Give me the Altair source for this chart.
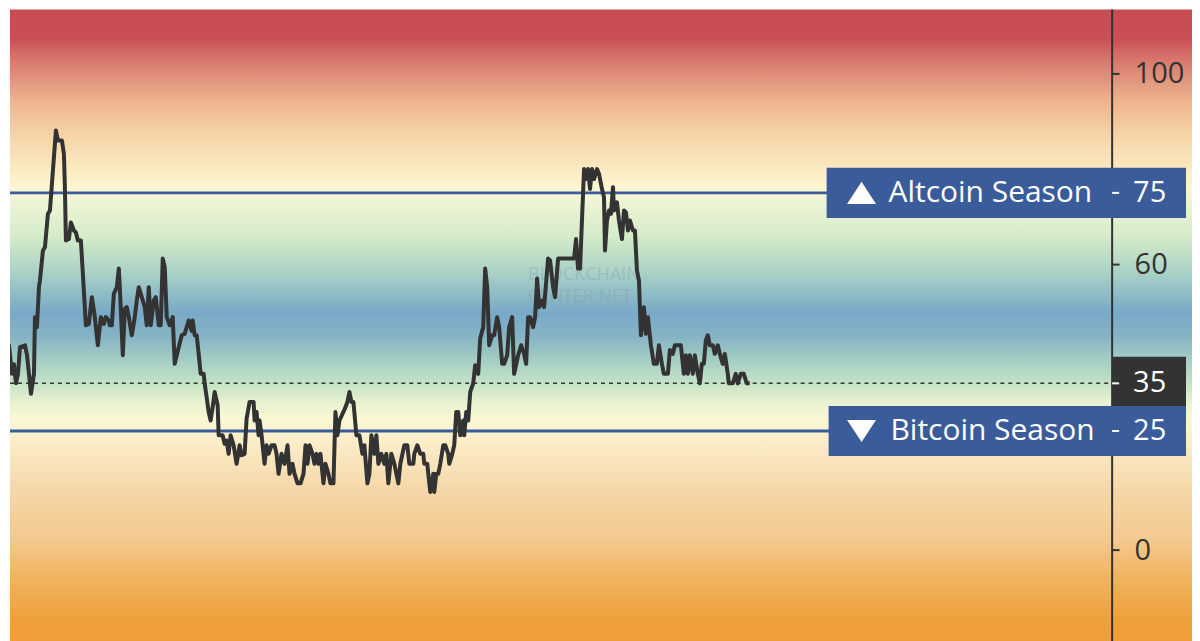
import altair as alt
import pandas as pd

# ---- index series (time index, index value) ----
t_1 = [0, 2, 4, 7, 10, 12, 14, 16, 18, 23, 25, 27, 29, 32, 33, 35, 37, 38, 41, 43,
       46, 48, 51, 54, 56, 60, 62, 63, 64, 67, 69, 72, 74, 76, 79, 81, 84, 87, 90, 93,
       96, 99, 102, 104, 107, 108, 110, 112, 115, 117, 118, 121, 123, 125, 127, 130, 133, 135, 137, 140,
       143, 145, 147, 149, 152, 154, 157, 159, 161, 163, 165, 168, 171, 173, 177, 180, 183, 185, 187]
v_1 = [29.3, 35, 32.8, 43, 37, 39, 35, 37, 42.6, 43, 41, 37, 32.8, 37, 48.9, 46.8, 55.2, 56.6, 62.9, 63.6,
       70.6, 71.3, 79.7, 88.1, 86, 86, 83.2, 76.2, 65, 65.3, 68.8, 67.1, 66.7, 65, 65, 58, 47.2, 47.5, 53.1, 48.9,
       43, 48.9, 47.5, 48.9, 48.2, 47.2, 47.2, 53.8, 55.2, 59.1, 55.2, 40.9, 50.7, 51, 48.9, 45.1, 48.9, 52.4, 55.2, 53.1,
       51, 47.2, 55.2, 47.2, 52.4, 53.1, 47.2, 47.2, 61.2, 59.4, 48.9, 47.2, 48.9, 39.1, 42.6, 45.1, 45.4, 46.8, 48.2]

t_2 = [190, 191, 193, 195, 197, 199, 202, 203, 205, 207, 209, 211, 213, 216, 217, 221, 223, 225, 227, 229,
       232, 235, 238, 240, 243, 245, 248, 252, 253, 255, 257, 258, 260, 263, 265, 267, 270, 273, 275, 277,
       280, 283, 286, 288, 291, 293, 296, 299, 302, 304, 306, 308, 311, 313, 315, 317, 319, 322, 324, 327,
       329, 332, 334, 336, 338, 342, 344, 346, 348, 350, 352, 355, 358, 361, 363, 366, 368, 370, 373, 375, 377]
v_2 = [46, 48.2, 45.1, 45.1, 41.2, 37, 37, 35, 32.1, 29, 27.2, 30, 33.2, 30.4, 24.1, 24.1, 22.3, 23, 20.2, 24.1,
       22, 18.1, 22, 19.9, 20.2, 27.6, 31.1, 31.1, 27.2, 29, 24.1, 27.2, 24.1, 18.1, 22, 20.2, 22, 22, 20.2, 16,
       20.2, 18.1, 22, 16, 18.1, 16, 14, 14, 16, 22, 18.1, 22, 20.2, 18.1, 20.2, 18.1, 20.2, 14, 18.1, 16,
       14, 14, 29, 24.1, 27.2, 29, 30, 31.1, 33.2, 31.1, 31.1, 24.1, 24.1, 20.2, 22, 14, 16, 24.1, 20.2, 24.1, 18.1]

t_3 = [380, 383, 385, 387, 390, 393, 397, 399, 403, 406, 408, 412, 413, 416, 419, 422, 423, 426, 427, 429,
       432, 433, 435, 437, 439, 442, 444, 447, 448, 451, 453, 455, 457, 459, 462, 463, 465, 467, 469, 472,
       474, 477, 479, 482, 484, 486, 488, 491, 493, 496, 498, 501, 503, 506, 508, 511, 513, 517, 520, 523,
       525, 527, 529, 532, 534, 536, 538, 541, 543, 547, 549, 552, 554, 557, 570]
v_3 = [20.2, 18.1, 20.2, 14, 20.2, 18.1, 14, 18.1, 22, 22, 18.1, 18.1, 20.2, 22, 20.2, 20.2, 18.1, 18.1, 16, 12.2,
       16, 12.2, 16, 16, 18.1, 22, 22, 20.2, 18.1, 20.2, 22, 29, 29, 24.1, 27.2, 24.1, 29, 27.2, 33.2, 35,
       38.8, 37, 44.4, 46.8, 59.1, 55.2, 43, 45.1, 45.1, 48.9, 46.8, 39.1, 39.1, 40.9, 46.8, 48.9, 37, 40.9, 43, 41.2,
       39.1, 48.9, 48.9, 46.8, 48.9, 57, 51, 52.4, 51, 61.2, 60.8, 55.2, 53.1, 61.2, 61.2]

t_4 = [573, 575, 577, 579, 583, 585, 587, 589, 591, 593, 596, 598, 601, 603, 604, 606, 608, 610, 612, 613,
       616, 618, 621, 623, 625, 627, 629, 632, 634, 636, 638, 640, 643, 645, 647, 650, 653, 656, 658, 661,
       663, 667, 669, 672, 674, 680, 683, 685, 687, 689, 692, 694, 697, 699, 701, 703, 705, 707, 709, 712,
       714, 717, 719, 722, 724, 727, 728, 732, 735, 737, 740, 743, 746, 749]
v_4 = [61.2, 65.3, 59.1, 59.1, 80, 77.9, 80, 75.8, 80, 77.9, 80, 79, 75.8, 74.1, 62.9, 69.2, 71.3, 70.6, 76.2, 71.3,
       73, 69.2, 65.3, 71.3, 70.9, 67.1, 69.2, 67.1, 67.1, 58.7, 56.6, 45.1, 51, 45.4, 48.9, 43, 39.1, 39.1, 43, 39.1,
       37, 37, 42, 41.2, 43, 43, 37, 40.9, 37, 40.9, 37, 40.9, 37, 35, 39.1, 39.1, 44, 45.1, 43, 43,
       41.2, 43, 41.2, 39.1, 41.2, 37, 35, 35, 37, 35, 37, 37, 35, 35]

# ---- levels, ticks, labels ----
altcoin_level = 75
bitcoin_level = 25
current_value = 35
tick_values = [0, 20, 40, 60, 80, 100]
hidden_ticks = [20, 40, 80]          # covered by the label boxes in the original
y_min, y_max = -19.2, 113.5
t_min, t_max = 8, 1112

# ---- background gradient (value -> colour) ----
grad_values = [113.5, 107.4, 102.6, 94.2, 86.9, 80.6, 76.1, 73.2, 65.9, 58.6, 52.3, 49.8,
               45.0, 39.7, 34.9, 31.3, 27.6, 23.0, 12.5, 2.0, -6.4, -14.8, -19.2]
grad_colors = ["#c84d53", "#c94f55", "#d87a6e", "#eeb48e", "#f6d5a8", "#fbe8be", "#fdf6d2", "#eef5d6",
               "#d5ebc9", "#abd3c6", "#86b5c6", "#79a9c8", "#85b3c4", "#a5cec4", "#c5e3c6", "#e6f1cf",
               "#fbf8d4", "#fbeec9", "#f5d7a8", "#f3c98e", "#f0b25b", "#eea03c", "#ef9d38"]

rows = []
for ts, vs in ((t_1, v_1), (t_2, v_2), (t_3, v_3), (t_4, v_4)):
    rows += [{"t": a, "v": b} for a, b in zip(ts, vs)]
df = pd.DataFrame(rows)

stops = [alt.GradientStop(offset=round((y_max - v) / (y_max - y_min), 4), color=c)
         for v, c in zip(grad_values, grad_colors)]
bg = alt.LinearGradient(gradient="linear", stops=stops, x1=0, x2=0, y1=0, y2=1)

FONT = "Open Sans"
BLUE = "#3b5c9b"
DARK = "#333333"
PLOT_W = 1104
yscale = alt.Scale(domain=[y_min, y_max], nice=False, zero=False)
hidden_test = " || ".join(f"datum.value == {h}" for h in hidden_ticks)

# right-hand value axis, drawn above the background; ticks/labels that the
# label boxes cover in the original are hidden
y_axis = alt.Axis(orient="right", values=tick_values, grid=False, domain=False,
                  zindex=1, tickColor=DARK, tickWidth=2, tickSize=7,
                  tickOpacity={"condition": {"test": hidden_test, "value": 0}, "value": 1},
                  labelExpr=f"({hidden_test}) ? '' : datum.label",
                  labelFontSize=29, labelFont=FONT, labelColor=DARK,
                  labelPadding=15, title=None)


def ydat(v):
    return alt.YDatum(v, scale=yscale, title=None)


base = alt.Chart(pd.DataFrame({"a": [0]}))

background = base.mark_rect(color=bg).encode(
    x=alt.value(0), x2=alt.value(1184),
    y=alt.YDatum(y_max, scale=yscale, title=None, axis=y_axis), y2=alt.Y2Datum(y_min))

axis_line = base.mark_rule(color=DARK, strokeWidth=2).encode(
    x=alt.value(PLOT_W), y=ydat(y_max), y2=alt.Y2Datum(y_min))

line = alt.Chart(df).mark_line(color=DARK, strokeWidth=4, strokeJoin="round", clip=True).encode(
    x=alt.X("t:Q", scale=alt.Scale(domain=[t_min, t_max], nice=False, zero=False), axis=None),
    y=alt.Y("v:Q", scale=yscale, title=None, axis=y_axis),
)


def hrule(level, color, width, dash=None, x2=PLOT_W):
    kw = dict(color=color, strokeWidth=width)
    if dash:
        kw["strokeDash"] = dash
    return base.mark_rule(**kw).encode(x=alt.value(0), x2=alt.value(x2), y=ydat(level))


def box(level, x0, x1, color, half=5.25):
    return base.mark_rect(color=color).encode(
        x=alt.value(x0), x2=alt.value(x1), y=ydat(level + half), y2=alt.Y2Datum(level - half))


def label(txt, level, x, size, color="white", font=FONT, opacity=1.0):
    return base.mark_text(text=txt, align="left", baseline="middle", fontSize=size, font=font,
                          color=color, opacity=opacity).encode(x=alt.value(x), y=ydat(level))


def tri(level, x, up=True):
    shape = "M-1,0.76L1,0.76L0,-0.76Z" if up else "M-1,-0.76L1,-0.76L0,0.76Z"
    return base.mark_point(shape=shape, filled=True, color="white", opacity=1, size=841).encode(
        x=alt.value(x), y=ydat(level))


def tick_dash(level):
    return base.mark_rule(color="white", strokeWidth=2).encode(
        x=alt.value(PLOT_W), x2=alt.value(PLOT_W + 7), y=ydat(level))


layers = [
    background,
    axis_line,
    label("BLOCKCHAIN", 57.8, 519, 18, color="#8a9aa6", opacity=0.35),
    label("CENTER.NET", 53.2, 519, 18, color="#8a9aa6", opacity=0.35),
    hrule(altcoin_level, BLUE, 3),
    hrule(bitcoin_level, BLUE, 3),
    hrule(current_value, DARK, 1.5, dash=[4, 4]),
    line,
    box(current_value, PLOT_W, 1178, DARK, half=5.6),
    box(altcoin_level, 818, 1178, BLUE),
    box(bitcoin_level, 820, 1178, BLUE),
    tri(altcoin_level, 853, up=True),
    tri(bitcoin_level, 853, up=False),
    label("Altcoin Season", altcoin_level, 880, 30),
    label("Bitcoin Season", bitcoin_level, 882, 30),
    tick_dash(altcoin_level),
    tick_dash(bitcoin_level),
    tick_dash(current_value),
    label(str(altcoin_level), altcoin_level, 1125, 29),
    label(str(current_value), current_value, 1125, 29),
    label(str(bitcoin_level), bitcoin_level, 1125, 29),
]

chart = alt.layer(*layers).properties(
    width=PLOT_W, height=633, padding=0,
).configure_view(strokeWidth=0)

chart.save("out.html", embed_options={"renderer": "svg", "actions": False})
